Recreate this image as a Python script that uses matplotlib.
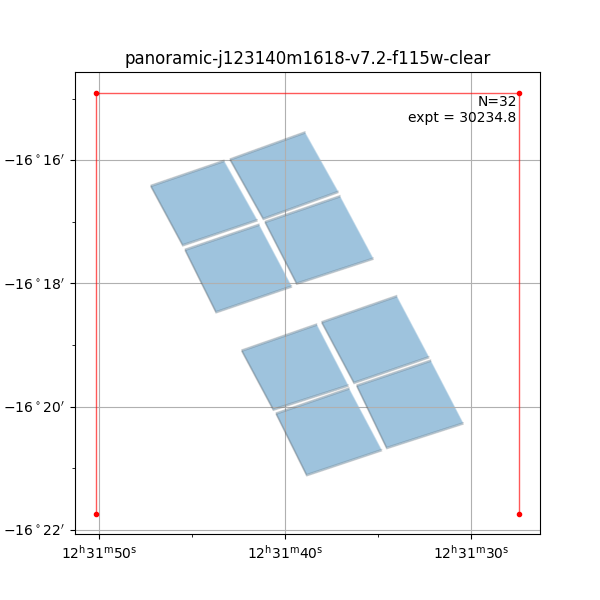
import numpy as np
import matplotlib
matplotlib.use("Agg")
from matplotlib import pyplot as plt

title = "panoramic-j123140m1618-v7.2-f115w-clear"
n_exp = 32
expt = 30234.8

# detector footprints (RA, Dec corners in degrees: TL, TR, BR, BL)
det_ra = [
    [187.94675, 187.93033, 187.92287, 187.93958],
    [187.92899, 187.91219, 187.90473, 187.92153],
    [187.93907, 187.92249, 187.91517, 187.93212],
    [187.92115, 187.90435, 187.89689, 187.91405],
    [187.92637, 187.90957, 187.90249, 187.91929],
    [187.90845, 187.89164, 187.88441, 187.90121],
    [187.91868, 187.90233, 187.89500, 187.91181],
    [187.90061, 187.88403, 187.87673, 187.89388],
]
det_dec = [
    [-16.27363, -16.26686, -16.28293, -16.28970],
    [-16.26648, -16.25916, -16.27526, -16.28257],
    [-16.29090, -16.28412, -16.30084, -16.30781],
    [-16.28339, -16.27642, -16.29331, -16.30008],
    [-16.31816, -16.31111, -16.32764, -16.33415],
    [-16.31049, -16.30344, -16.31997, -16.32691],
    [-16.33518, -16.32840, -16.34510, -16.35187],
    [-16.32764, -16.32087, -16.33786, -16.34453],
]
# small dither offsets between the 4 exposures (deg)
dither_ra = [0.0, 0.0, 0.00001, 0.00001]
dither_dec = [0.0002, 0.0002, -0.0002, -0.0002]

# mosaic bounding box
box_ra = [187.95901, 187.95901, 187.86425, 187.86425]
box_dec = [-16.36233, -16.24851, -16.24851, -16.36233]

xticks = [187.958333, 187.916667, 187.875]
xticklabels = [r"$12^\mathrm{h}31^\mathrm{m}50^\mathrm{s}$",
               r"$12^\mathrm{h}31^\mathrm{m}40^\mathrm{s}$",
               r"$12^\mathrm{h}31^\mathrm{m}30^\mathrm{s}$"]
xminor = [187.9375, 187.895833]
yticks = [-16.266667, -16.3, -16.333333, -16.366667]
yticklabels = [r"$-16^\circ16^\prime$", r"$-16^\circ18^\prime$",
               r"$-16^\circ20^\prime$", r"$-16^\circ22^\prime$"]
yminor = [-16.25, -16.283333, -16.316667, -16.35]

fig = plt.figure(figsize=(6, 6), dpi=100)
ax = fig.add_subplot(1, 1, 1)

outline = [2, 3, 0, 1]  # open outline, no right edge
for ra, dec in zip(det_ra, det_dec):
    ra = np.array(ra)
    dec = np.array(dec)
    for dr, dd in zip(dither_ra, dither_dec):
        ax.fill(ra + dr, dec + dd, facecolor=(0.12, 0.47, 0.71, 0.13),
                edgecolor='none')
        ax.plot(ra[outline] + dr, dec[outline] + dd,
                color=(0.0, 0.0, 0.0, 0.08), linewidth=0.9)

ax.plot(box_ra, box_dec, color='r', alpha=0.65, linewidth=1.0)
ax.plot(box_ra, box_dec, color='r', linestyle='none', marker='.', markersize=6)

ax.text(0.95, 0.95, "N={}\nexpt = {}".format(n_exp, expt),
        transform=ax.transAxes, ha='right', va='top', fontsize=10)

ax.set_xlim(187.96371, 187.85954)
ax.set_ylim(-16.36775, -16.24282)
ax.set_xticks(xticks)
ax.set_xticklabels(xticklabels)
ax.set_xticks(xminor, minor=True)
ax.set_yticks(yticks)
ax.set_yticklabels(yticklabels)
ax.set_yticks(yminor, minor=True)
ax.grid(True, which='major')
ax.set_title(title)

fig.savefig("out.png", dpi=100)
